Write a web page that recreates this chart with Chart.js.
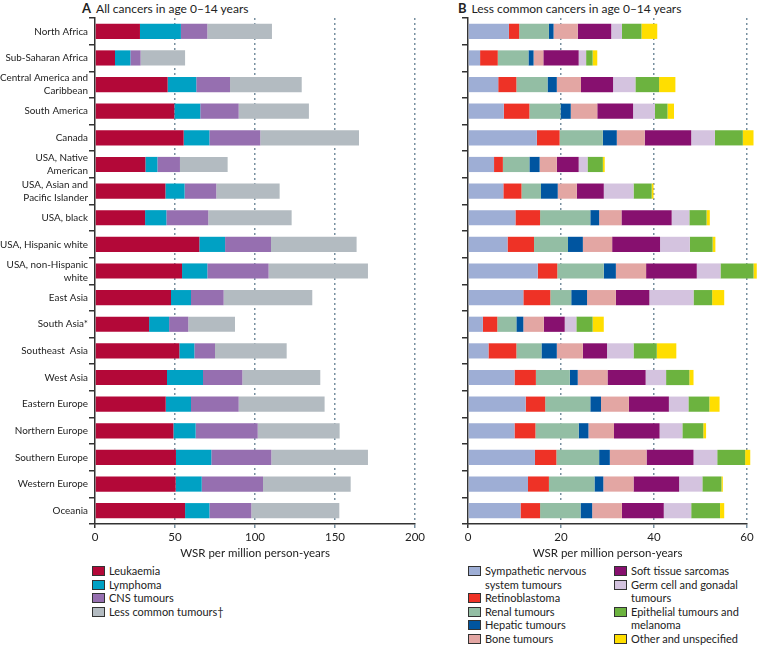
<!DOCTYPE html>
<html>
<head>
<meta charset="utf-8">
<script src="https://cdn.jsdelivr.net/npm/chart.js@4"></script>
<style>
  body { margin: 0; background: #fff; font-family: Lato, "Open Sans", sans-serif; color: #222; }
  #wrap { position: relative; width: 757px; height: 645px; overflow: hidden; }
  .ttl { position: absolute; font-size: 12px; white-space: nowrap; }
  .ttl b { font-size: 13px; margin-right: 5px; }
  canvas { position: absolute; top: 0; }
  .leg { position: absolute; font-size: 11px; line-height: 13.5px; }
  .leg div { position: relative; padding-left: 17px; white-space: pre-line; }
  .leg span { position: absolute; left: 0; top: 2px; width: 11px; height: 8px; border: 1px solid #333; }
</style>
</head>
<body>
<div id="wrap">
  <div class="ttl" style="left:82px; top:0px;"><b>A</b>All cancers in age 0–14 years</div>
  <div class="ttl" style="left:458px; top:0px;"><b>B</b>Less common cancers in age 0–14 years</div>
  <canvas id="chartA" width="430" height="562" style="left:0px;"></canvas>
  <canvas id="chartB" width="337" height="562" style="left:420px;"></canvas>
  <div class="leg" id="legA" style="left:92px; top:564px; width:200px;"></div>
  <div class="leg" id="legB1" style="left:468px; top:564px; width:140px;"></div>
  <div class="leg" id="legB2" style="left:614px; top:564px; width:140px;"></div>
</div>
<script>
var regions = [
  'North Africa', 'Sub-Saharan Africa', ['Central America and', 'Caribbean'], 'South America',
  'Canada', ['USA, Native', 'American'], ['USA, Asian and', 'Pacific Islander'], 'USA, black',
  'USA, Hispanic white', ['USA, non-Hispanic', 'white'], 'East Asia', 'South Asia*',
  'Southeast  Asia', 'West Asia', 'Eastern Europe', 'Northern Europe', 'Southern Europe',
  'Western Europe', 'Oceania'
];

// panel A - all cancers
var leukaemia  = [28.1, 12.5, 45.4, 49.6, 55.4, 31.5, 44.0, 31.3, 65.2, 54.4, 47.5, 33.8, 52.7, 45.0, 44.2, 49.0, 50.6, 50.4, 56.3];
var lymphoma   = [25.6, 9.6, 17.9, 16.2, 16.1, 7.5, 12.0, 13.3, 16.1, 15.8, 12.5, 12.5, 9.4, 22.5, 15.8, 13.9, 22.1, 16.3, 15.2];
var cns        = [16.5, 6.4, 21.1, 24.0, 31.8, 14.1, 19.8, 26.2, 28.7, 38.3, 20.4, 12.0, 12.9, 24.6, 29.8, 38.8, 37.5, 38.3, 26.2];
var lessCommon = [40.4, 27.8, 44.8, 43.9, 61.7, 29.8, 39.6, 52.1, 53.5, 62.1, 55.4, 29.2, 44.8, 48.7, 53.7, 51.2, 60.4, 54.8, 55.0];

// panel B - less common cancers
var sympathetic    = [8.8, 2.6, 6.5, 7.7, 14.8, 5.6, 7.6, 10.2, 8.5, 15.0, 11.9, 3.2, 4.4, 10.0, 12.4, 10.0, 14.4, 12.9, 11.3];
var retinoblastoma = [2.2, 3.8, 3.9, 5.5, 4.9, 1.9, 3.9, 5.3, 5.7, 4.2, 5.8, 3.1, 6.0, 4.6, 4.2, 4.5, 4.6, 4.5, 4.2];
var renal          = [6.4, 6.6, 6.7, 6.7, 9.3, 5.7, 4.2, 10.8, 7.3, 10.0, 4.5, 4.1, 5.4, 7.3, 9.7, 9.3, 9.2, 9.8, 8.7];
var hepatic        = [1.0, 1.1, 2.0, 2.2, 3.0, 2.2, 3.6, 1.9, 3.2, 2.6, 3.4, 1.5, 3.3, 1.7, 2.3, 2.1, 2.3, 1.9, 2.5];
var bone           = [5.2, 2.1, 5.2, 5.7, 6.0, 3.7, 4.1, 4.8, 6.3, 6.5, 6.2, 4.4, 5.6, 6.4, 6.0, 5.5, 7.9, 6.5, 6.4];
var softTissue     = [7.2, 7.6, 6.9, 7.7, 10.0, 4.7, 5.8, 10.8, 10.3, 10.9, 7.2, 4.5, 5.2, 8.2, 8.6, 9.8, 10.1, 9.8, 9.0];
var germCell       = [2.3, 1.6, 4.8, 4.7, 5.1, 1.9, 6.4, 3.8, 6.4, 5.1, 9.5, 2.5, 5.7, 4.4, 4.2, 4.9, 5.1, 5.0, 5.9];
var epithelial     = [4.2, 1.4, 5.1, 2.7, 6.0, 3.3, 3.9, 3.7, 4.9, 7.1, 4.0, 3.5, 5.0, 5.0, 4.5, 4.5, 6.0, 4.1, 6.2];
var otherUnspec    = [3.4, 1.0, 3.5, 1.4, 2.3, 0.4, 0.4, 0.7, 0.6, 0.7, 2.6, 2.4, 4.2, 0.9, 2.2, 0.6, 1.1, 0.3, 0.9];

var namesA  = ['Leukaemia', 'Lymphoma', 'CNS tumours', 'Less common tumours†'];
var coloursA = ['#b30838', '#00a1c4', '#966fb0', '#b3bbc1'];
var dataA = [leukaemia, lymphoma, cns, lessCommon];

var namesB = ['Sympathetic nervous\nsystem tumours', 'Retinoblastoma', 'Renal tumours', 'Hepatic tumours', 'Bone tumours',
  'Soft tissue sarcomas', 'Germ cell and gonadal\ntumours', 'Epithelial tumours and\nmelanoma', 'Other and unspecified'];
var coloursB = ['#9eaed5', '#ee3226', '#93bea4', '#0055a0', '#e3a6a3', '#87106f', '#d4c3df', '#6cb33f', '#ffde00'];
var dataB = [sympathetic, retinoblastoma, renal, hepatic, bone, softTissue, germCell, epithelial, otherUnspec];

var font = 'Lato, "Open Sans", sans-serif';
var dark = '#333';
var gridCol = '#7890a0';

function makeChart(id, names, colours, data, xmax, step, yWidth, padRight, showLabels) {
    var datasets = names.map(function (n, i) {
        return {
            label: n,
            data: data[i],
            backgroundColor: colours[i],
            borderWidth: 0,
            barPercentage: 0.57,
            categoryPercentage: 1,
            clip: false
        };
    });
    return new Chart(document.getElementById(id), {
        type: 'bar',
        data: { labels: regions, datasets: datasets },
        options: {
            responsive: false,
            animation: false,
            indexAxis: 'y',
            layout: { padding: { top: 18, right: padRight, left: 0, bottom: 0 } },
            plugins: { legend: { display: false }, tooltip: { enabled: false } },
            scales: {
                x: {
                    stacked: true,
                    min: 0,
                    max: xmax,
                    ticks: { stepSize: step, color: '#222', padding: 2, font: { family: font, size: 11.5 } },
                    grid: {
                        color: function (c) { return c.tick && c.tick.value === 0 ? 'rgba(0,0,0,0)' : gridCol; },
                        tickColor: function (c) { return c.tick && c.tick.value === 0 ? dark : gridCol; },
                        lineWidth: 1.5,
                        tickLength: 4
                    },
                    border: { display: true, color: dark, width: 1.5, dash: [2, 3] },
                    title: { display: true, text: 'WSR per million person-years', color: '#222',
                        font: { family: font, size: 11.5 }, padding: { top: 0, bottom: 2 } },
                    afterFit: function (s) { s.height = 38; s.paddingLeft = 0; s.paddingRight = 0; }
                },
                y: {
                    stacked: true,
                    ticks: {
                        display: showLabels,
                        autoSkip: false,
                        color: '#222',
                        padding: 1,
                        font: { family: font, size: 9.9, lineHeight: 1.34 }
                    },
                    grid: { drawOnChartArea: false, color: dark, lineWidth: 1.5, tickLength: 6 },
                    border: { display: true, color: dark, width: 1.5 },
                    afterFit: function (s) { s.width = yWidth; }
                }
            }
        }
    });
}

makeChart('chartA', namesA, coloursA, dataA, 200, 50, 95, 15, true);
makeChart('chartB', namesB, coloursB, dataB, 60, 20, 48, 10, false);

function legend(elId, names, colours) {
    var el = document.getElementById(elId);
    names.forEach(function (n, i) {
        var row = document.createElement('div');
        var box = document.createElement('span');
        box.style.background = colours[i];
        row.appendChild(box);
        row.appendChild(document.createTextNode(n));
        el.appendChild(row);
    });
}
legend('legA', namesA, coloursA);
legend('legB1', namesB.slice(0, 5), coloursB.slice(0, 5));
legend('legB2', namesB.slice(5), coloursB.slice(5));
</script>
</body>
</html>
